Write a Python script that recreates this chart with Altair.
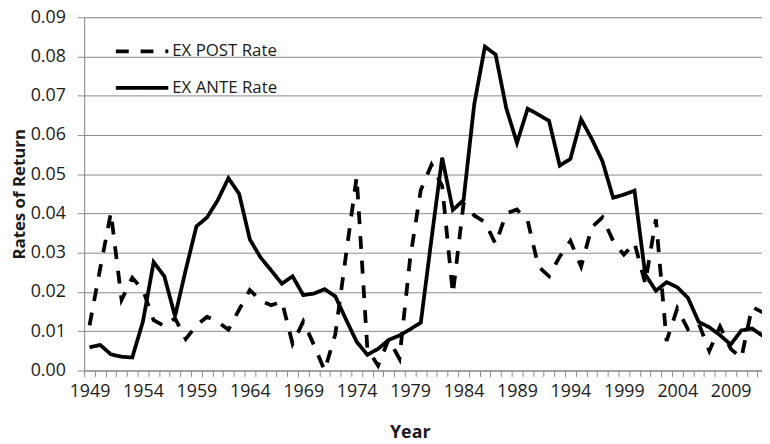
import altair as alt
import pandas as pd

years = list(range(1949, 2013))

ex_post = [
    0.0115, 0.0260, 0.0402, 0.0180, 0.0236, 0.0205, 0.0128, 0.0113, 0.0133, 0.0080,
    0.0115, 0.0137, 0.0124, 0.0104, 0.0155, 0.0205, 0.0178, 0.0166, 0.0176, 0.0068,
    0.0125, 0.0065, 0.0000, 0.0092, 0.0295, 0.0493, 0.0055, 0.0012, 0.0080, 0.0030,
    0.0285, 0.0460, 0.0524, 0.0470, 0.0195, 0.0425, 0.0395, 0.0378, 0.0322, 0.0400,
    0.0410, 0.0382, 0.0265, 0.0240, 0.0290, 0.0330, 0.0265, 0.0365, 0.0390, 0.0330,
    0.0295, 0.0325, 0.0222, 0.0385, 0.0075, 0.0158, 0.0105, 0.0120, 0.0050, 0.0112,
    0.0055, 0.0032, 0.0162, 0.0148,
]

ex_ante = [
    0.0059, 0.0065, 0.0041, 0.0035, 0.0033, 0.0125, 0.0276, 0.0240, 0.0138, 0.0256,
    0.0367, 0.0390, 0.0434, 0.0490, 0.0450, 0.0334, 0.0288, 0.0255, 0.0221, 0.0240,
    0.0192, 0.0196, 0.0207, 0.0189, 0.0130, 0.0073, 0.0040, 0.0055, 0.0078, 0.0089,
    0.0105, 0.0122, 0.0335, 0.0542, 0.0409, 0.0434, 0.0678, 0.0825, 0.0805, 0.0668,
    0.0580, 0.0667, 0.0652, 0.0636, 0.0522, 0.0539, 0.0640, 0.0590, 0.0533, 0.0440,
    0.0448, 0.0458, 0.0245, 0.0203, 0.0225, 0.0212, 0.0185, 0.0124, 0.0110, 0.0090,
    0.0066, 0.0102, 0.0107, 0.0088,
]

series_names = ["EX POST Rate", "EX ANTE Rate"]
y_ticks = [0.00, 0.01, 0.02, 0.03, 0.04, 0.05, 0.06, 0.07, 0.08, 0.09]
first_label_year = 1949
label_step = 5

df = pd.DataFrame({
    "Year": years + years,
    "Rate": ex_post + ex_ante,
    "Series": [series_names[0]] * len(years) + [series_names[1]] * len(years),
})

W, H = 685, 357
x_min, x_max = 1948.5, 2011.93
half_cat = W / (x_max - x_min) / 2.0
boundaries = [y - 0.5 for y in years]

label_expr = (
    f"((datum.value + 0.5 - {first_label_year}) % {label_step} == 0) "
    f"? format(datum.value + 0.5, 'd') : ''"
)

FONT = "Open Sans"
GRAY = "#8a8a8a"
TXT = "#1a1a1a"

chart = alt.Chart(df).mark_line(clip=True, strokeWidth=3.8, color="black").encode(
    x=alt.X(
        "Year:Q",
        scale=alt.Scale(domain=[x_min, x_max], nice=False, zero=False),
        axis=alt.Axis(
            values=boundaries,
            labelExpr=label_expr,
            labelOffset=half_cat,
            labelOverlap=False,
            labelFlush=False,
            labelFont=FONT,
            labelFontSize=18,
            labelColor=TXT,
            labelPadding=6,
            tickSize=6,
            tickColor=GRAY,
            domainColor=GRAY,
            grid=False,
            title="Year",
            titleFont=FONT,
            titleFontSize=18,
            titleFontWeight="bold",
            titleColor=TXT,
            titleX=329,
            titleY=63,
            titleBaseline="middle",
            titleAlign="center",
        ),
    ),
    y=alt.Y(
        "Rate:Q",
        scale=alt.Scale(domain=[0, 0.09], nice=False, zero=True),
        axis=alt.Axis(
            values=y_ticks,
            format=".2f",
            labelFont=FONT,
            labelFontSize=18,
            labelColor=TXT,
            labelPadding=12,
            tickSize=7,
            tickColor=GRAY,
            domainColor=GRAY,
            grid=True,
            gridColor=GRAY,
            gridWidth=1,
            title="Rates of Return",
            titleFont=FONT,
            titleFontSize=17,
            titleFontWeight="bold",
            titleColor=TXT,
            titlePadding=2,
        ),
    ),
    strokeDash=alt.StrokeDash(
        "Series:N",
        scale=alt.Scale(domain=series_names, range=[[13, 12], [1, 0]]),
        legend=alt.Legend(
            title=None,
            orient="none",
            legendX=30,
            legendY=6,
            symbolType="stroke",
            symbolSize=2809,
            symbolStrokeWidth=3.8,
            symbolStrokeColor="black",
            labelFont=FONT,
            labelFontSize=17,
            labelColor=TXT,
            labelOffset=2,
            rowPadding=-2,
            padding=0,
        ),
    ),
).properties(
    width=W,
    height=H,
    autosize="none",
    padding={"left": 77, "top": 7, "right": 0, "bottom": 72},
).configure_view(stroke=None).configure(background="white")

chart.save("out.html", embed_options={"renderer": "svg", "actions": False})
